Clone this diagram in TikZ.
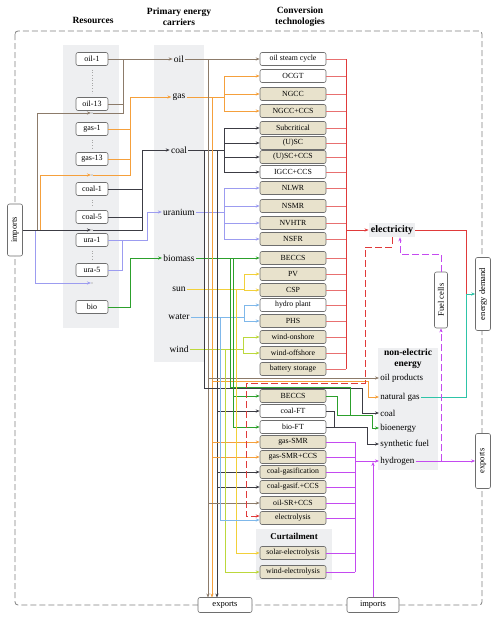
\documentclass[tikz,border=0pt]{standalone}
\usepackage{fontspec}
\setmainfont{Liberation Serif}
\usetikzlibrary{arrows.meta}
\definecolor{oilc}{HTML}{8C7B6A}
\definecolor{gasc}{HTML}{F5A03C}
\definecolor{coalc}{HTML}{3C3C44}
\definecolor{urac}{HTML}{9C9CF0}
\definecolor{bioc}{HTML}{2CA02C}
\definecolor{sunc}{HTML}{F2D03A}
\definecolor{watc}{HTML}{7FB8EA}
\definecolor{windc}{HTML}{BCD83C}
\definecolor{elc}{HTML}{E03A3A}
\definecolor{elcl}{HTML}{E87070}
\definecolor{h2c}{HTML}{C44AF0}
\definecolor{tealc}{HTML}{2EC4A8}
\definecolor{panelc}{HTML}{EEEFF1}
\definecolor{tanc}{HTML}{E8E2CC}
\definecolor{bordc}{HTML}{6E6E6E}
\tikzset{
  res/.style={draw=bordc, line width=0.6pt, rounded corners=2pt, fill=white, minimum width=32pt, minimum height=13pt, inner sep=0pt, font=\fontsize{8}{9}\selectfont},
  techbox/.style={draw=bordc, line width=0.6pt, rounded corners=2pt, fill=tanc, minimum width=66pt, minimum height=13pt, inner sep=0pt, font=\fontsize{7.8}{8}\selectfont},
  techw/.style={techbox, fill=white},
  carr/.style={font=\fontsize{9.5}{10}\selectfont, inner sep=1pt},
  nel/.style={font=\fontsize{9}{10}\selectfont, anchor=west, inner sep=1pt},
  vbox/.style={draw=bordc, line width=0.6pt, rounded corners=2pt, fill=white, rotate=90, minimum height=15pt, inner sep=1pt, font=\fontsize{8.5}{9}\selectfont},
  hbox/.style={draw=bordc, line width=0.6pt, rounded corners=2pt, fill=white, minimum height=15pt, inner sep=1pt, font=\fontsize{8.5}{9}\selectfont},
  hdr/.style={font=\bfseries\fontsize{9.5}{11}\selectfont, align=center},
  dotn/.style={circle, fill=gray, inner sep=0.5pt},
  oilL/.style={draw=oilc}, gasL/.style={draw=gasc}, coalL/.style={draw=coalc},
  uraL/.style={draw=urac}, bioL/.style={draw=bioc}, sunL/.style={draw=sunc},
  watL/.style={draw=watc}, windL/.style={draw=windc}, elL/.style={draw=elcl},
  elB/.style={draw=elc}, h2L/.style={draw=h2c},
}
\begin{document}
\begin{tikzpicture}[x=1pt,y=-1pt, >={Stealth[length=4pt,width=3.2pt]}, line width=0.7pt]
\useasboundingbox (0,0) rectangle (500,621);
% headers
\node[hdr] (hres) at (93,20) {Resources};
\node[hdr] (hcar) at (179,17) {Primary energy\\carriers};
\node[hdr] (htec) at (300,17) {Conversion\\technologies};
% outer dashed border
\draw[gray, line width=0.8pt, dash pattern=on 6pt off 3pt, rounded corners=3pt] (15,31) rectangle (482,605);
% panels
\fill[panelc] (63,45) rectangle (119,328);
\fill[panelc] (154,45) rectangle (204,362);
\fill[panelc] (378,348) rectangle (438,470);
\fill[panelc] (256,529) rectangle (332,580);
% resources
\node[res] (oil1) at (92,59) {oil-1};
\node[res] (oil13) at (92,104) {oil-13};
\node[res] (gas1) at (92,129) {gas-1};
\node[res] (gas13) at (92,159) {gas-13};
\node[res] (coal1) at (92,189) {coal-1};
\node[res] (coal5) at (92,217) {coal-5};
\node[res] (ura1) at (92,240) {ura-1};
\node[res] (ura5) at (92,270) {ura-5};
\node[res] (bio) at (92,307) {bio};
\node[dotn] (doil) at (92,113) {};
\node[dotn] (dgas) at (92,175) {};
\node[dotn] (dcoal) at (92,230) {};
\node[dotn] (dura) at (92,283) {};
\foreach \a/\b in {oil1/oil13, gas1/gas13, coal1/coal5, ura1/ura5}
  \draw[gray!70, line width=0.6pt, dotted] ([yshift=-4pt]\a.south) -- ([yshift=4pt]\b.north);
% carriers
\node[carr] (oilcar) at (179,59) {oil};
\node[carr] (gascar) at (179,97) {gas};
\node[carr] (coalcar) at (179,150) {coal};
\node[carr] (uracar) at (179,212) {uranium};
\node[carr] (biocar) at (179,258) {biomass};
\node[carr] (suncar) at (179,289) {sun};
\node[carr] (watcar) at (179,317) {water};
\node[carr] (windcar) at (179,349) {wind};
% technologies
\foreach \n/\y/\t/\s in {t1/59/oil steam cycle/techw, t2/76/OCGT/techw, t3/94/NGCC/techbox, t4/111/NGCC+CCS/techbox,
  t5/128/Subcritical/techbox, t6/143/(U)SC/techbox, t7/157/(U)SC+CCS/techbox, t8/172/IGCC+CCS/techw,
  t9/188/NLWR/techbox, t10/206/NSMR/techbox, t11/223/NVHTR/techbox, t12/239/NSFR/techbox,
  t13/258/BECCS/techbox, t14/274/PV/techbox, t15/290/CSP/techbox, t16/305/hydro plant/techw,
  t17/321/PHS/techbox, t18/337/wind-onshore/techbox, t19/353/wind-offshore/techbox, t20/369/battery storage/techbox,
  l1/396/BECCS/techbox, l2/411/coal-FT/techw, l3/427/bio-FT/techw, l4/442/gas-SMR/techbox,
  l5/457/gas-SMR+CCS/techbox, l6/472/coal-gasification/techbox, l7/487/coal-gasif.+CCS/techbox,
  l8/503/oil-SR+CCS/techbox, l9/518/electrolysis/techbox, l10/553/solar-electrolysis/techbox, l11/572/wind-electrolysis/techbox}
  \node[\s] (\n) at (293,\y) {\t};
\node[font=\bfseries\fontsize{9}{10}\selectfont] (curt) at (294,536) {Curtailment};
% outputs
\node[fill=panelc, inner sep=2pt, minimum height=14pt, font=\bfseries\fontsize{10}{11}\selectfont] (elec) at (392,230) {electricity};
\node[font=\bfseries\fontsize{9.5}{11}\selectfont, align=center] (nehdr) at (408,359) {non-electric\\energy};
\node[nel] (op) at (379,378) {oil products};
\node[nel] (ng) at (379,397) {natural gas};
\node[nel] (ncoal) at (379,413) {coal};
\node[nel] (be) at (379,428) {bioenergy};
\node[nel] (sf) at (379,444) {synthetic fuel};
\node[nel] (h2) at (379,461) {hydrogen};
\node[vbox, minimum width=56pt, minimum height=13pt] (fc) at (441,300) {Fuel cells};
\node[vbox, minimum width=73pt] (ed) at (483,294) {energy demand};
\node[vbox, minimum width=55pt] (exr) at (483,461) {exports};
\node[vbox, minimum width=52pt] (imp) at (15,230) {imports};
\node[hbox, minimum width=54pt] (expb) at (225,605) {exports};
\node[hbox, minimum width=52pt] (impb) at (373,605) {imports};

% ---- resources -> carriers
\draw[oilL,->] (oil1.east) -- (oilcar.west);
\draw[oilL] (oil13.east) -- (123,104) -- (123,59);
\draw[oilL] (doil.east) -- (123,113) -- (123,104);
\draw[gasL] (gas1.east) -- (130,129);
\draw[gasL] (gas13.east) -- (130,159);
\draw[gasL,->] (dgas.east) -- (130,175) -- (130,97) -- (gascar.west);
\draw[coalL] (coal1.east) -- (142,189);
\draw[coalL] (coal5.east) -- (142,217);
\draw[coalL,->] (dcoal.east) -- (142,230) -- (142,150) -- (coalcar.west);
\draw[uraL] (ura5.east) -- (122,270) -- (122,240);
\draw[uraL,->] (ura1.east) -- (147,240) -- (147,212) -- (uracar.west);
\draw[bioL,->] (bio.east) -- (130,307) -- (130,258) -- (biocar.west);
% imports
\draw[oilL,->] (imp.south) -- (37,230) -- (37,113) -- (doil.west);
\draw[gasL,->] (imp.south) -- (40,230) -- (40,175) -- (dgas.west);
\draw[uraL,->] (imp.south) -- (35,230) -- (35,283) -- (dura.west);
\draw[coalL,->] (imp.south) -- (dcoal.west);

% ---- carriers -> technologies
\draw[oilL,->] (oilcar.east) -- (t1.west);
\draw[gasL] (gascar.east) -- (224,97);
\draw[gasL] (224,76) -- (224,111);
\foreach \n/\y in {t2/76,t3/94,t4/111} \draw[gasL,->] (224,\y) -- (\n.west);
\draw[coalL] (coalcar.east) -- (224,150);
\draw[coalL] (224,128) -- (224,172);
\foreach \n/\y in {t5/128,t6/143,t7/157,t8/172} \draw[coalL,->] (224,\y) -- (\n.west);
\draw[uraL] (uracar.east) -- (224,212);
\draw[uraL] (224,188) -- (224,239);
\foreach \n/\y in {t9/188,t10/206,t11/223,t12/239} \draw[uraL,->] (224,\y) -- (\n.west);
\draw[bioL,->] (biocar.east) -- (t13.west);
\draw[sunL] (suncar.east) -- (244,289);
\draw[sunL] (244,274) -- (244,290);
\foreach \n/\y in {t14/274,t15/290} \draw[sunL,->] (244,\y) -- (\n.west);
\draw[watL] (watcar.east) -- (244,317);
\draw[watL] (244,305) -- (244,321);
\foreach \n/\y in {t16/305,t17/321} \draw[watL,->] (244,\y) -- (\n.west);
\draw[windL] (windcar.east) -- (243,349);
\draw[windL] (243,337) -- (243,353);
\foreach \n/\y in {t18/337,t19/353} \draw[windL,->] (243,\y) -- (\n.west);

% ---- long verticals
\draw[oilL,->] (208,59) -- (208,597.5);
\draw[gasL,->] (212,97) -- (212,597.5);
\draw[coalL,->] (217,150) -- (217,597.5);
\draw[coalL,->] (204,150) -- (204,388) -- (362,388) -- (362,413) -- (ncoal.west);
\draw[oilL,->] (208,378) -- (op.west);
\draw[gasL,->] (212,381) -- (368,381) -- (368,397) -- (ng.west);
\draw[oilL,->] (208,503) -- (l8.west);
\foreach \n/\y in {l4/442,l5/457} \draw[gasL,->] (212,\y) -- (\n.west);
\foreach \n/\y in {l2/411,l6/472,l7/487} \draw[coalL,->] (217,\y) -- (\n.west);
\draw[bioL] (230,258) -- (230,387) -- (350,387) -- (350,415);
\draw[bioL] (233,258) -- (233,427);
\foreach \n/\y in {l1/396,l3/427} \draw[bioL,->] (233,\y) -- (\n.west);
\draw[bioL] (l1.east) -- (337,396) -- (337,415) -- (350,415);
\draw[bioL,->] (350,415) -- (372,415) -- (372,428) -- (be.west);
\draw[coalL] (l2.east) -- (334,411) -- (334,427);
\draw[coalL,->] (l3.east) -- (367,427) -- (367,444) -- (sf.west);
\draw[sunL,->] (236,289) -- (236,553) -- (l10.west);
\draw[windL,->] (225,349) -- (225,572) -- (l11.west);
\draw[watL,->] (220,317) -- (220,520) -- ([yshift=-2pt]l9.west);

% ---- electricity
\foreach \n/\y in {t1/59,t2/76,t3/94,t4/111,t5/128,t6/143,t7/157,t8/172,t9/188,t10/206,t11/223,t12/239,t13/258,t14/274,t15/290,t16/305,t17/321,t18/337,t19/353,t20/369}
  \draw[elL] (\n.east) -- (346,\y);
\draw[elB, line width=0.9pt] (346,59) -- (346,369);
\draw[elB,->] (346,230) -- (elec.west);
\draw[elB] (elec.east) -- (466,230) -- (466,294);
\draw[draw=tealc,->] (ng.east) -- (466,397) -- (466,294) -- (ed.north);
\draw[color=elc, line width=0.9pt, dash pattern=on 7pt off 3pt,->] (elec.south) -- (392,247) -- (365,247) -- (365,383) -- (246,383) -- (246,516) -- ([yshift=2pt]l9.west);

% ---- hydrogen
\foreach \n/\y in {l4/442,l5/457,l6/472,l7/487,l8/503,l9/518,l10/553,l11/572}
  \draw[h2L] (\n.east) -- (355,\y);
\draw[h2L] (355,442) -- (355,572);
\draw[h2L,->] (355,461) -- (h2.west);
\draw[h2L,->] (impb.north) -- (373,462);
\draw[h2L,->] (h2.east) -- (exr.north);
\draw[color=h2c, line width=0.9pt, dash pattern=on 7pt off 3pt,->] (441,461) -- (fc.west);
\draw[color=h2c, line width=0.9pt, dash pattern=on 7pt off 3pt,->] (fc.east) -- (441,254) -- (400,254) -- ([xshift=8pt]elec.south);
\end{tikzpicture}
\end{document}
